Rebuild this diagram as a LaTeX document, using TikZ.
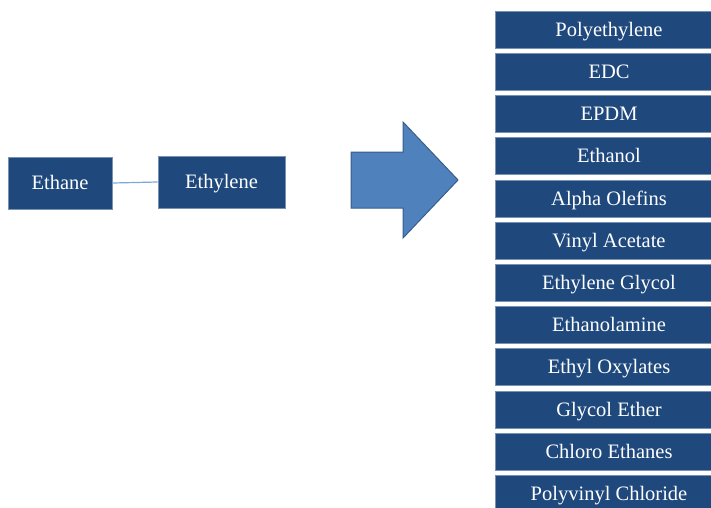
\documentclass[tikz,border=0pt]{standalone}
\usepackage{fontspec}
\setmainfont{Liberation Serif}
\usetikzlibrary{positioning}

\definecolor{boxblue}{HTML}{1F497D}
\definecolor{arrowblue}{HTML}{4F81BD}
\definecolor{arrowedge}{HTML}{385D8A}
\definecolor{linkblue}{HTML}{7EA6D8}

\tikzset{
  chembox/.style = {fill=boxblue, draw=boxblue!60!white, line width=0.6pt,
                    text=white, font=\fontsize{20.5}{24}\selectfont,
                    inner sep=0pt, text height=13.6pt, text depth=0pt,
                    minimum height=52pt},
  prodbox/.style = {chembox, minimum width=228pt, minimum height=37pt}
}

\begin{document}
\begin{tikzpicture}[x=1pt, y=-1pt]
		\useasboundingbox (0,0) rectangle (711,507);
		\clip (0,0) rectangle (711,507);

		% feedstock and intermediate
		\node[chembox, minimum width=104pt] (ethane) at (60,183) {Ethane};
		\node[chembox, minimum width=127pt] (ethylene) at (221.5,182) {Ethylene};
		\draw[linkblue, line width=1.2pt] (ethane.east) -- (ethylene.west);

		% big arrow
		\draw[fill=arrowblue, draw=arrowedge, line width=1pt]
			(351,152) -- (403,152) -- (403,122) -- (458,180)
			-- (403,238) -- (403,208) -- (351,208) -- cycle;

		% derivatives
		\foreach \name [count=\i from 0] in {Polyethylene, EDC, EPDM, Ethanol,
			Alpha Olefins, Vinyl Acetate, Ethylene Glycol, Ethanolamine,
			Ethyl Oxylates, Glycol Ether, Chloro Ethanes, Polyvinyl Chloride}
			\node[prodbox] (prod\i) at (609,29.5+42.2*\i) {\name};
		\end{tikzpicture}
\end{document}
